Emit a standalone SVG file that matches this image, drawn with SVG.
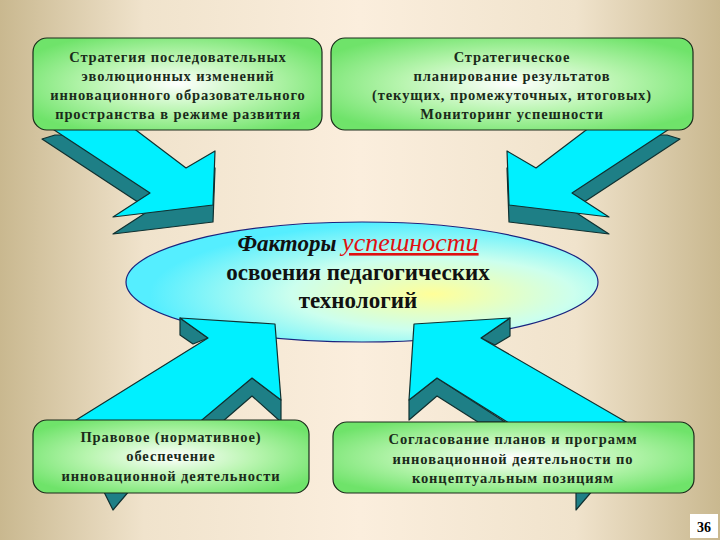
<svg xmlns="http://www.w3.org/2000/svg" width="720" height="540" viewBox="0 0 720 540">
<defs>
<linearGradient id="bg" x1="0" y1="0" x2="1" y2="0">
<stop offset="0" stop-color="#c9b88f"/><stop offset="0.2" stop-color="#f0e3cc"/><stop offset="0.5" stop-color="#fbeedd"/><stop offset="0.8" stop-color="#f0e3cc"/><stop offset="1" stop-color="#c9b88f"/>
</linearGradient>
<radialGradient id="gb" cx="0.5" cy="0.5" r="0.6">
<stop offset="0" stop-color="#ffffff"/><stop offset="0.5" stop-color="#b9f5b0"/><stop offset="1" stop-color="#6fe36a"/>
</radialGradient>
<radialGradient id="el" cx="0.65" cy="0.6" r="0.6">
<stop offset="0" stop-color="#ffff99"/><stop offset="0.5" stop-color="#ccffee"/><stop offset="1" stop-color="#55eeff"/>
</radialGradient>
<style>
.box{fill:url(#gb);stroke:#1a2a1a;stroke-width:1.2}
.bt{font-family:"Liberation Serif",serif;font-size:14.5px;font-weight:bold;letter-spacing:0.9px;fill:#1a2a1a;text-anchor:middle}
.cy{fill:#00f0ff;stroke:#103030;stroke-width:1.2;stroke-linejoin:round}
.tl{fill:#1e7f86;stroke:#103030;stroke-width:1.2;stroke-linejoin:round}
.et{font-family:"Liberation Serif",serif;font-size:23px;font-weight:bold;fill:#111;text-anchor:middle}
</style>
</defs>
<rect width="720" height="540" fill="url(#bg)"/>
<g id="connectors">
<g id="arrow-tl">
<polygon class="tl" transform="translate(0,17)" points="55,118 120,118 186,168 215,151 213,205 113,217 150,193 42,122"/>
<polygon class="cy" points="55,118 120,118 186,168 215,151 213,205 113,217 150,193 42,122"/>
</g>
<g id="arrow-tr">
<polygon class="tl" transform="translate(0,17)" points="667,118 602,118 536,168 507,151 509,205 609,217 572,193 680,122"/>
<polygon class="cy" points="667,118 602,118 536,168 507,151 509,205 609,217 572,193 680,122"/>
</g>
</g>
<g id="center">
<ellipse cx="362" cy="282" rx="236" ry="60" fill="url(#el)" stroke="#1a237e" stroke-width="1.2"/>
</g>
<g id="connectors-bottom">
<g id="arrow-bl">
<polygon class="tl" points="103,490 113,510 130,490"/>
<polygon class="tl" points="180,318 180,335 193,344 208,338"/>
<polygon class="tl" points="195,422 252,378 281,400 281,422 252,396 222,422"/>
<polygon class="cy" points="180,318 275,324 281,400 252,378 190,430 60,430 208,338"/>
</g>
<g id="arrow-br">
<polygon class="tl" points="576,490 576,510 593,490"/>
<polygon class="tl" points="510,318 510,336 495,345 481,338"/>
<polygon class="tl" points="409,400 437,378 505,422 478,422 437,396 409,420"/>
<polygon class="cy" points="510,318 414,324 409,400 437,378 520,430 640,430 481,338"/>
</g>
</g>
<g id="center-text">
<text x="358" y="251" class="et"><tspan font-style="italic">Факторы </tspan><tspan font-style="italic" font-weight="normal" fill="#e01010" font-size="26px" text-decoration="underline">успешности</tspan></text>
<text x="358" y="280" class="et">освоения педагогических</text>
<text x="358" y="308" class="et">технологий</text>
</g>
<g id="box-tl">
<rect class="box" x="33" y="38" width="289" height="92" rx="14"/>
<text class="bt" x="178" y="62">Стратегия последовательных</text>
<text class="bt" x="178" y="81">эволюционных изменений</text>
<text class="bt" x="178" y="100">инновационного образовательного</text>
<text class="bt" x="178" y="119">пространства в режиме развития</text>
</g>
<g id="box-tr">
<rect class="box" x="331" y="38" width="362" height="92" rx="14"/>
<text class="bt" x="512" y="62">Стратегическое</text>
<text class="bt" x="512" y="81">планирование результатов</text>
<text class="bt" x="512" y="100">(текущих, промежуточных, итоговых)</text>
<text class="bt" x="512" y="119">Мониторинг успешности</text>
</g>
<g id="box-bl">
<rect class="box" x="33" y="420" width="276" height="73" rx="14"/>
<text class="bt" x="171" y="442">Правовое (нормативное)</text>
<text class="bt" x="171" y="461">обеспечение</text>
<text class="bt" x="171" y="481">инновационной деятельности</text>
</g>
<g id="box-br">
<rect class="box" x="333" y="422" width="361" height="71" rx="14"/>
<text class="bt" x="513" y="444">Согласование планов и программ</text>
<text class="bt" x="513" y="464">инновационной деятельности по</text>
<text class="bt" x="513" y="483">концептуальным позициям</text>
</g>
<rect x="690" y="514" width="28" height="24" fill="#fff"/>
<text x="704" y="532" font-family="Liberation Serif,serif" font-size="14px" font-weight="bold" text-anchor="middle">36</text>
</svg>
